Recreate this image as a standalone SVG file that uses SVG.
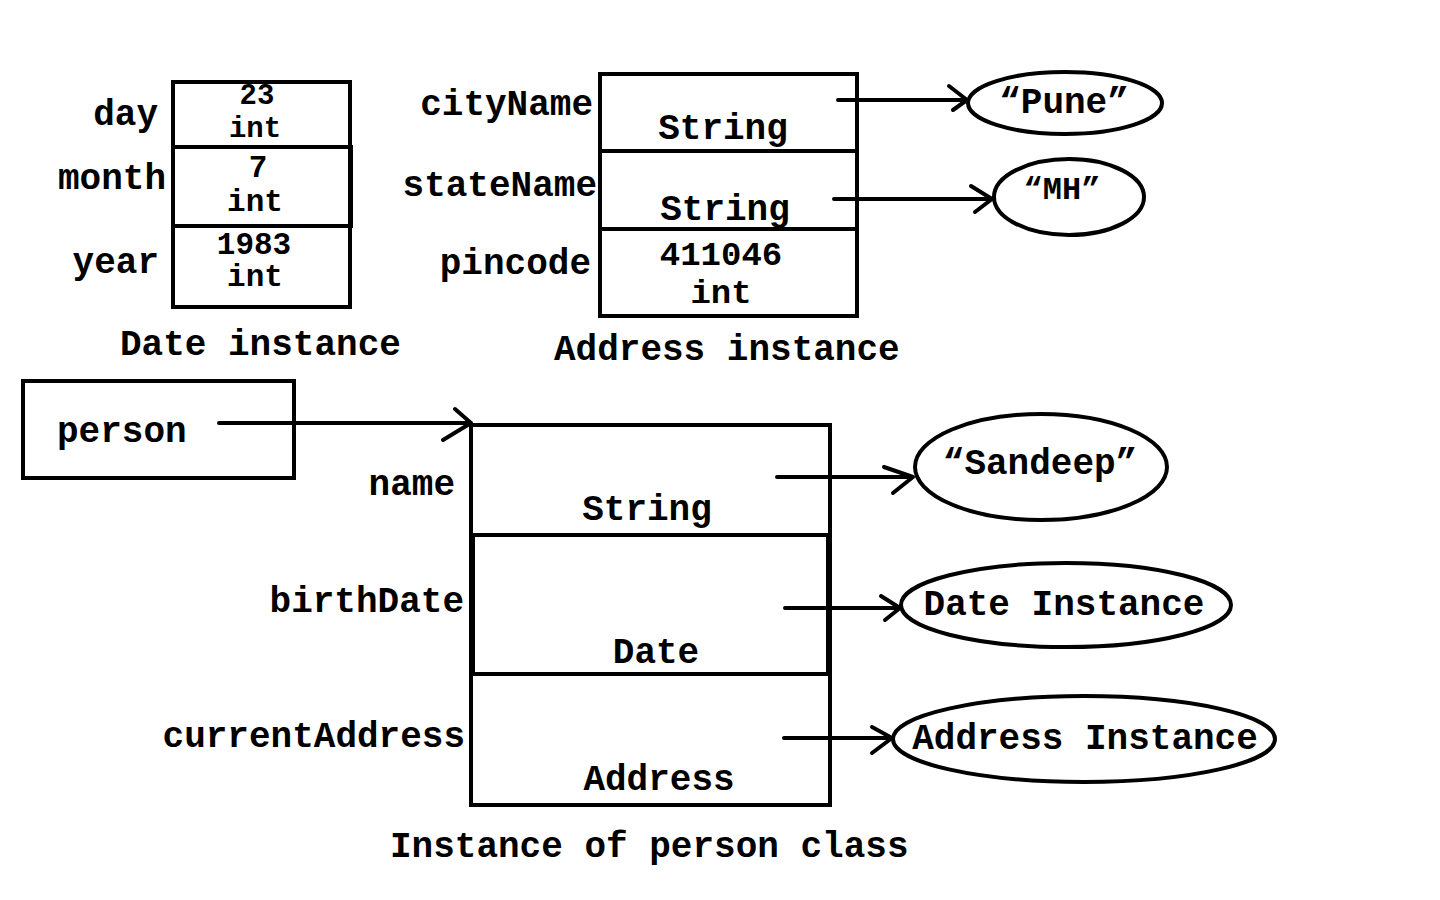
<svg xmlns="http://www.w3.org/2000/svg" width="1440" height="900" viewBox="0 0 1440 900">
<style>
text{font-family:"Liberation Mono","Courier New",monospace;font-weight:bold;font-size:36px;fill:#000}
.box{fill:none;stroke:#000;stroke-width:4}
.ell{fill:#fff;stroke:#000;stroke-width:4}
.ln{fill:none;stroke:#000;stroke-width:4}
.m{text-anchor:middle}
.e{text-anchor:end}
.v{font-size:31px}
.t{font-size:29px}
.p{font-size:34px}
</style>
<rect width="1440" height="900" fill="#fff"/>
<g id="date-instance">
<rect class="box" x="173" y="82" width="177" height="225"/>
<rect class="box" x="173" y="147" width="178" height="79"/>
<text class="e" x="158" y="125">day</text>
<text class="e" x="166" y="189">month</text>
<text class="e" x="159" y="273">year</text>
<text class="m t" x="257" y="104">23</text>
<text class="m t" x="255" y="137">int</text>
<text class="m v" x="258" y="177">7</text>
<text class="m v" x="255" y="211">int</text>
<text class="m v" x="254" y="254">1983</text>
<text class="m v" x="255" y="286">int</text>
<text x="120" y="355">Date instance</text>
</g>
<g id="address-instance">
<rect class="box" x="600" y="74" width="257" height="242"/>
<line class="ln" x1="600" y1="151" x2="857" y2="151"/>
<line class="ln" x1="600" y1="229" x2="857" y2="229"/>
<text class="e" x="593" y="115">cityName</text>
<text class="e" x="597" y="196">stateName</text>
<text class="e" x="591" y="274">pincode</text>
<text class="m" x="723" y="139">String</text>
<text class="m" x="725" y="220">String</text>
<text class="m p" x="721" y="265">411046</text>
<text class="m p" x="721" y="303">int</text>
<text x="554" y="360">Address instance</text>
</g>
<g id="pune">
<ellipse class="ell" cx="1065" cy="103" rx="97" ry="31"/>
<text class="m" x="1064" y="113">“Pune”</text>
</g>
<g id="mh">
<ellipse class="ell" cx="1069" cy="197" rx="75" ry="38"/>
<text class="m" x="1062" y="199" style="font-size:32px">“MH”</text>
</g>
<g id="person">
<rect class="box" x="23" y="381" width="271" height="97"/>
<text x="57" y="442">person</text>
</g>
<g id="person-instance">
<rect class="box" x="471" y="425" width="359" height="380"/>
<rect class="box" x="473" y="535" width="355" height="139"/>
<text class="e" x="455" y="495">name</text>
<text class="e" x="464" y="612">birthDate</text>
<text class="e" x="465" y="747">currentAddress</text>
<text class="m" x="647" y="520">String</text>
<text class="m" x="656" y="663">Date</text>
<text class="m" x="659" y="790">Address</text>
<text x="390" y="857">Instance of person class</text>
</g>
<g id="sandeep">
<ellipse class="ell" cx="1041" cy="467" rx="126" ry="53"/>
<text class="m" x="1040" y="474">“Sandeep”</text>
</g>
<g id="date-instance-ref">
<ellipse class="ell" cx="1066" cy="605" rx="165" ry="42"/>
<text class="m" x="1064" y="615">Date Instance</text>
</g>
<g id="address-instance-ref">
<ellipse class="ell" cx="1084" cy="739" rx="191" ry="43"/>
<text class="m" x="1085" y="749">Address Instance</text>
</g>
<g id="connectors" class="ln" stroke-linecap="round" stroke-linejoin="round">
<path class="ln" d="M838 100 H967 M949 86 L967 100 L953 110"/>
<path class="ln" d="M834 199 H992 M971 186 L992 199 L975 212"/>
<path class="ln" d="M219 423 H471 M455 409 L471 423 L443 440"/>
<path class="ln" d="M777 477 H913 M884 467 L913 477 L893 493"/>
<path class="ln" d="M785 608 H900 M881 596 L900 608 L885 620"/>
<path class="ln" d="M784 738 H892 M872 727 L892 738 L872 753"/>
</g>
</svg>
